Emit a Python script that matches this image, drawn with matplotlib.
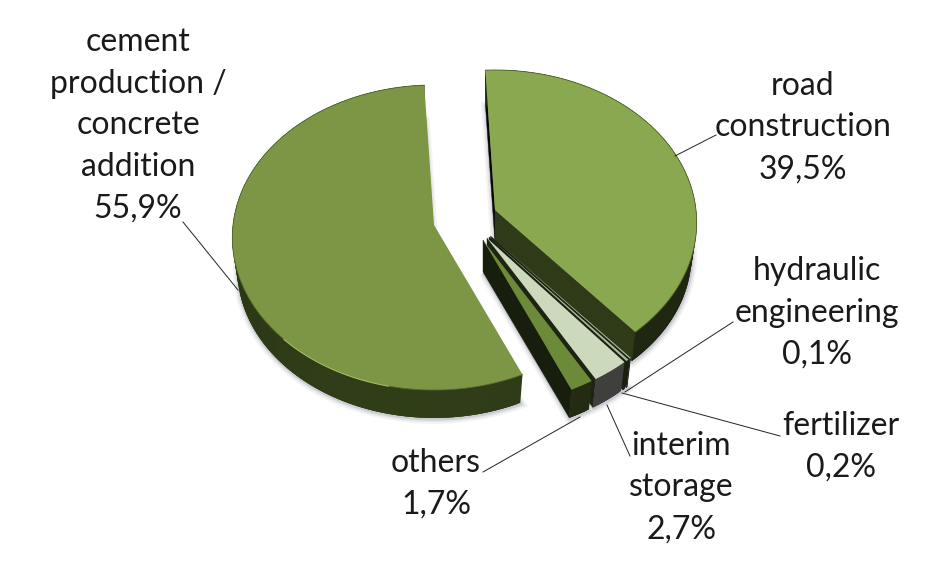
import numpy as np
import matplotlib
matplotlib.use("Agg")
import matplotlib.pyplot as plt
from matplotlib.collections import PolyCollection
from matplotlib.colors import to_rgb

# ---- data -----
categories = ["road\nconstruction", "hydraulic\nengineering", "fertilizer",
              "interim\nstorage", "others", "cement\nproduction /\nconcrete\naddition"]
shares = [39.5, 0.1, 0.2, 2.7, 1.7, 55.9]

# ---- styles / layout -----
top_colors = ["#8aa84f", "#b4c2a4", "#a9b79b", "#cdd9bd", "#6c8a38", "#7d9645"]
wall_colors = ["#1f2711", "#1a1f10", "#1a1f10", "#3f403e", "#232c12", "#2c3816"]
face_colors = ["#2f3b18", "#1a2010", "#1a2010", "#1d2412", "#171e0d", "#2c3716"]
apexes = [(495, 210), (490.5, 236), (489, 237), (487, 238), (483, 240), (434, 225)]
start_angle = 93.0
RX, RY, K = 201.0, 151.5, 0.082
DEPTH, BASE_SCALE = 32.0, 0.975

label_centers = [(803, 127.5), (817, 313), (841, 446.5), (681, 487.5), (436, 484), (138, 125.5)]
leaders = [[(675, 156), (716, 135)],
           [(625, 392), (733, 322)],
           [(622, 393), (780, 436)],
           [(607, 405), (630, 456)],
           [(580, 417), (483, 472)],
           [(238, 290), (183, 222)]]

plt.rcParams['font.family'] = ['Lato', 'DejaVu Sans']
fig = plt.figure(figsize=(9.5, 5.63), dpi=100)
ax = fig.add_axes([0, 0, 1, 1])
ax.set_xlim(0, 950)
ax.set_ylim(563, 0)
ax.axis("off")


def project(angles, apex, base=False):
    a = np.radians(angles)
    u, v = np.cos(a), np.sin(a)
    w = 1.0 / (1.0 + K * v)
    s = BASE_SCALE if base else 1.0
    dy = DEPTH if base else 0.0
    return np.column_stack([apex[0] + s * RX * u * w, apex[1] + dy - s * RY * v * w])


def shade(col, f):
    return tuple(min(1, c * f) for c in to_rgb(col))


fractions = np.array(shares) / sum(shares)
ends = start_angle - np.cumsum(fractions) * 360.0
starts = np.concatenate([[start_angle], ends[:-1]])

slices = []
for a0, a1, apex in zip(starts, ends, apexes):
    n = max(3, int(abs(a0 - a1) * 2))
    angs = np.linspace(a0, a1, n)
    slices.append((angs, apex, project(angs, apex), project(angs, apex, True)))

# soft drop shadow cast by the lower outline of each slice
for lw_s, col in [(7, "#f3f3f4"), (4.5, "#e4e5e8"), (2.2, "#cbcdd2")]:
    for angs, apex, top, base in slices:
        ap_base = np.array(apex, float) + [0, DEPTH]
        poly = np.vstack([ap_base, base]) + [0.5, 1.0]
        ax.fill(poly[:, 0], poly[:, 1], facecolor=col, edgecolor=col, lw=lw_s, zorder=1)

# draw back to front
order = [5, 0, 1, 2, 3, 4]
z = 2
for idx in order:
    angs, apex, top, base = slices[idx]
    ap = np.array(apex, float)
    ap_base = ap + [0, DEPTH]
    # radial faces
    for edge_i in (0, -1):
        q = np.array([ap, top[edge_i], base[edge_i], ap_base])
        col = face_colors[idx]
        if idx == 0 and edge_i == 0:
            col = "#060804"
        if idx == 5 and edge_i == -1:
            continue
        if edge_i == 0 and idx != 0:
            continue
        ax.fill(q[:, 0], q[:, 1], color=col, lw=0.3, zorder=z)
    z += 1
    # outer wall, shaded along the arc; quads overlap so that no seams show
    n = len(top)
    quads = [np.array([top[i], top[min(i + 3, n - 1)], base[min(i + 3, n - 1)], base[i]])
             for i in range(n - 1)]
    am = 0.5 * (angs[:-1] + angs[1:])
    if idx == 5:
        f = 0.85 + 0.25 * np.clip(np.cos(np.radians(am + 100)), 0, 1)
    else:
        f = np.ones_like(am)
    cols = [shade(wall_colors[idx], x) for x in f]
    ax.add_collection(PolyCollection(quads, facecolors=cols, edgecolors="none", zorder=z))
    z += 1
    # top surface
    poly = np.vstack([ap, top])
    ax.fill(poly[:, 0], poly[:, 1], color=top_colors[idx], lw=0, zorder=z)
    z += 1
    if idx in (0, 5):
        ax.plot(top[:, 0], top[:, 1], color="#55682c", lw=0.6, zorder=z)
        z += 1

# bright rim on the big slice
angs, apex, top, base = slices[5]
m = (angs % 360 > 225) & (angs % 360 < 258)
ax.plot(top[m, 0], top[m, 1], color="#a9bd63", lw=0.8, zorder=z)
z += 1

# leader lines
for seg in leaders:
    xs, ys = zip(*seg)
    ax.plot(xs, ys, color="#222222", lw=0.7, zorder=z)

# labels
for cat, val, (cx, cy) in zip(categories, shares, label_centers):
    txt = f"{cat}\n{val:.1f}%".replace(".", ",")
    ax.text(cx, cy, txt, ha="center", va="center", fontsize=23, color="#1a1a1a",
            linespacing=1.49, zorder=z + 1)

fig.savefig("out.png", dpi=100, facecolor="white")
